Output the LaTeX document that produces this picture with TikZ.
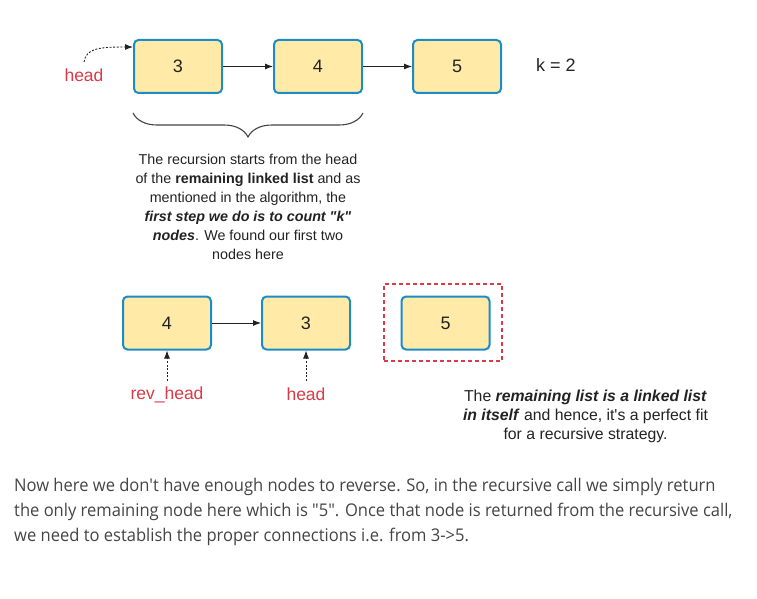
\documentclass[tikz,border=0pt]{standalone}
\usepackage{fontspec}
\newfontfamily\diagfont{Liberation Sans}
\newfontfamily\parafont[FakeStretch=0.945]{Open Sans}
\usetikzlibrary{arrows.meta,decorations.pathreplacing}
\definecolor{boxfill}{HTML}{FFEAA8}
\definecolor{boxline}{HTML}{1C8CC8}
\definecolor{lblred}{HTML}{D93A47}
\definecolor{txt}{HTML}{222222}
\definecolor{paratxt}{HTML}{444444}
\tikzset{
  listbox/.style={draw=boxline, fill=boxfill, line width=2pt, rounded corners=4.5pt,
    minimum width=88pt, minimum height=53pt, inner sep=0pt, text=txt,
    font=\diagfont\fontsize{18}{21}\selectfont},
  link/.style={-{Latex[length=8pt,width=6pt]}, line width=0.9pt, draw=txt},
  ptr/.style={-{Latex[length=8pt,width=6pt]}, line width=0.9pt, draw=txt, dash pattern=on 2pt off 1.6pt},
  redlbl/.style={text=lblred, font=\diagfont\fontsize{17.5}{20}\selectfont, inner sep=0pt},
  note/.style={align=center, text=txt, font=\diagfont\fontsize{14.3}{19}\selectfont, inner sep=0pt},
  note2/.style={align=center, text=txt, font=\diagfont\fontsize{15.8}{19}\selectfont, inner sep=0pt},
  paraline/.style={anchor=west, text=paratxt, font=\parafont\fontsize{17.5}{20}\selectfont, inner sep=0pt},
}
\begin{document}
\begin{tikzpicture}[x=1pt,y=-1pt]
\useasboundingbox (0,0) rectangle (757,599);
% top row
\node[listbox] (t3) at (178,66.5) {3};
\node[listbox] (t4) at (318,66.5) {4};
\node[listbox] (t5) at (457,66.5) {5};
\draw[link] (t3.east) -- (t4.west);
\draw[link] (t4.east) -- (t5.west);
\node[redlbl] (thead) at (84,75.5) {head};
\coordinate (theadtop) at (84,62);
\draw[ptr] (theadtop) .. controls (86,48) and (100,47) .. (t3.west |- 0,47);
\node[text=txt, font=\diagfont\fontsize{18}{21}\selectfont, inner sep=0pt] (k) at (556,65) {k = 2};
% brace
\coordinate (bl) at (133,113);
\coordinate (br) at (363,113);
\draw[decorate, decoration={brace, mirror, amplitude=24pt}, line width=1.1pt, draw=txt!85] (bl) -- (br);
\node[note] (n1) at (248,206.5) {The recursion starts from the head\\
of the \textbf{remaining linked list} and as\\
mentioned in the algorithm, the\\
\textbf{\textit{first step we do is to count "k"}}\\
\textbf{\textit{nodes}}. We found our first two\\
nodes here};
% bottom row
\node[listbox] (b4) at (167,323) {4};
\node[listbox] (b3) at (306,323) {3};
\node[listbox] (b5) at (445.5,323) {5};
\draw[link] (b4.east) -- (b3.west);
\node[draw=lblred, dash pattern=on 4pt off 3pt, line width=1.2pt, minimum width=118pt, minimum height=77pt, inner sep=0pt] (grp) at (443,322.5) {};
\node[redlbl] (rev) at (167,394.5) {rev\_head};
\node[redlbl] (bhead) at (306,394.5) {head};
\coordinate (revtop) at (167,381);
\coordinate (bheadtop) at (306,381);
\draw[ptr] (revtop) -- (b4.south);
\draw[ptr] (bheadtop) -- (b3.south);
\node[note2] (n2) at (585.5,416) {The \textbf{\textit{remaining list is a linked list}}\\
\textbf{\textit{in itself}} and hence, it's a perfect fit\\
for a recursive strategy.};
% paragraph
\node[paraline] (p1) at (14,487) {Now here we don't have enough nodes to reverse. So, in the recursive call we simply return};
\node[paraline] (p2) at (14,512) {the only remaining node here which is "5". Once that node is returned from the recursive call,};
\node[paraline] (p3) at (14,537) {we need to establish the proper connections i.e. from 3->5.};
\end{tikzpicture}
\end{document}
